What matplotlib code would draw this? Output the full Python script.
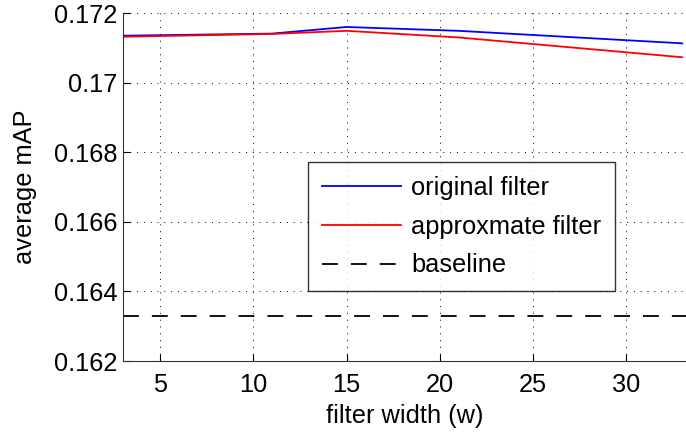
import matplotlib
matplotlib.use("Agg")
import matplotlib.pyplot as plt
from matplotlib.ticker import FixedLocator, FixedFormatter

plt.rcParams['font.family'] = ['Liberation Sans', 'DejaVu Sans']

# data
width = [3, 11, 15, 21, 33]
original = [0.17135, 0.17141, 0.17160, 0.17149, 0.17113]
approx = [0.17132, 0.17140, 0.17149, 0.17130, 0.17073]
baseline = 0.1633

yticks = [0.162, 0.164, 0.166, 0.168, 0.170, 0.172]
ylabels = ["0.162", "0.164", "0.166", "0.168", "0.17", "0.172"]
xticks = [5, 10, 15, 20, 25, 30]

fs = 18.3

fig = plt.figure(figsize=(6.86, 4.36), dpi=100)
ax = fig.add_axes([0.179, 0.172, 0.821, 0.798])

ax.plot(width, original, color='#0000ff', lw=1.3, label='original filter')
ax.plot(width, approx, color='#ff0000', lw=1.3, label='approxmate filter')
ax.axhline(baseline, color='black', lw=1.3, ls=(0, (8.8, 7.2)), label='baseline')

ax.set_xlim(3, 33.2)
ax.set_ylim(0.162, 0.172)
ax.yaxis.set_major_locator(FixedLocator(yticks))
ax.yaxis.set_major_formatter(FixedFormatter(ylabels))
ax.set_xticks(xticks)
ax.tick_params(direction='in', labelsize=fs, length=5)
ax.tick_params(axis='y', pad=4)
ax.tick_params(axis='x', pad=8.5)
ax.grid(True, color='black', ls=(0, (1, 6)), lw=0.7)

ax.spines['top'].set_visible(False)
ax.spines['right'].set_visible(False)
ax.spines['left'].set_color('#333333')
ax.spines['bottom'].set_color('#333333')

ax.set_xlabel('filter width (w)', fontsize=fs, labelpad=5)
ax.set_ylabel('average mAP', fontsize=fs, labelpad=12)

leg = ax.legend(loc='upper left', bbox_to_anchor=(0.329, 0.572), fontsize=fs,
                frameon=True, fancybox=False, edgecolor='black',
                handlelength=3.1, handletextpad=0.4, borderpad=0.55,
                borderaxespad=0, labelspacing=0.58)
leg.get_frame().set_linewidth(1.0)

fig.savefig('out.png', dpi=100)
